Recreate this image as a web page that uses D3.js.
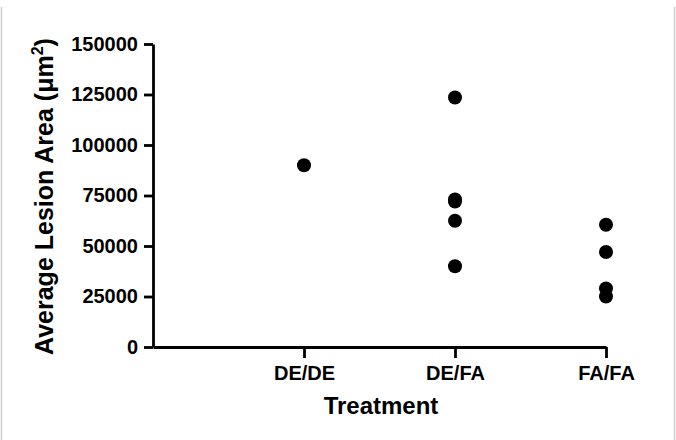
<!DOCTYPE html>
<html>
<head>
<meta charset="utf-8">
<script src="https://cdn.jsdelivr.net/npm/d3@7"></script>
<style>
  html, body { margin: 0; padding: 0; background: #fff; }
  svg { display: block; }
  text { font-family: "Liberation Sans", Arial, sans-serif; font-weight: bold; fill: #000; }
</style>
</head>
<body>
<svg id="chart" width="676" height="440"></svg>
<script>
// ---- data ----
const categories = ["DE/DE", "DE/FA", "FA/FA"];
const deDe = [90000];
const deFa = [123500, 73000, 72000, 62500, 40000];
const faFa = [60500, 47000, 29000, 25000];
const yTicks = [0, 25000, 50000, 75000, 100000, 125000, 150000];
const xTitle = "Treatment";
const yTitle = "Average Lesion Area (\u03bcm";

const series = [
  { cat: "DE/DE", values: deDe },
  { cat: "DE/FA", values: deFa },
  { cat: "FA/FA", values: faFa }
];

const svg = d3.select("#chart");

// light frame
svg.append("line").attr("x1", 1.5).attr("x2", 1.5).attr("y1", 7).attr("y2", 440)
  .attr("stroke", "#cfcfcf").attr("stroke-width", 1.5);
svg.append("line").attr("x1", 674.5).attr("x2", 674.5).attr("y1", 7).attr("y2", 440)
  .attr("stroke", "#cfcfcf").attr("stroke-width", 1.5);

const x = d3.scalePoint().domain([""].concat(categories)).range([153, 606]);
const y = d3.scaleLinear().domain([0, 150000]).range([347, 44]);

// y axis
const yAxis = svg.append("g").attr("transform", "translate(153,0)")
  .call(d3.axisLeft(y).tickValues(yTicks).tickFormat(d3.format("d")).tickSizeOuter(0).tickSizeInner(9).tickPadding(6));
yAxis.select(".domain").attr("stroke", "#000").attr("stroke-width", 2.8);
yAxis.selectAll(".tick line").attr("stroke", "#000").attr("stroke-width", 2.8);
yAxis.selectAll(".tick text").style("font-size", "20px").attr("font-family", null).attr("fill", "#000");

// x axis
const xAxis = svg.append("g").attr("transform", "translate(0,347)")
  .call(d3.axisBottom(x).tickValues(categories).tickSizeOuter(0).tickSizeInner(11).tickPadding(8));
xAxis.select(".domain").attr("stroke", "#000").attr("stroke-width", 2.8);
xAxis.selectAll(".tick line").attr("stroke", "#000").attr("stroke-width", 2.8);
xAxis.selectAll(".tick text").style("font-size", "20px").attr("font-family", null).attr("fill", "#000");

// points
const pts = [];
series.forEach(s => s.values.forEach(v => pts.push({ cat: s.cat, v })));
svg.append("g").selectAll("circle").data(pts).join("circle")
  .attr("cx", d => x(d.cat))
  .attr("cy", d => y(d.v))
  .attr("r", 7)
  .attr("fill", "#000");

// axis titles
svg.append("text")
  .attr("x", 381).attr("y", 414)
  .attr("text-anchor", "middle")
  .style("font-size", "24px")
  .text(xTitle);

const yt = svg.append("text")
  .attr("transform", "translate(53,196.5) rotate(-90)")
  .attr("text-anchor", "middle")
  .style("font-size", "25px");
yt.append("tspan").text(yTitle);
yt.append("tspan").attr("dy", -10).style("font-size", "16px").text("2");
yt.append("tspan").attr("dy", 10).text(")");
</script>
</body>
</html>
